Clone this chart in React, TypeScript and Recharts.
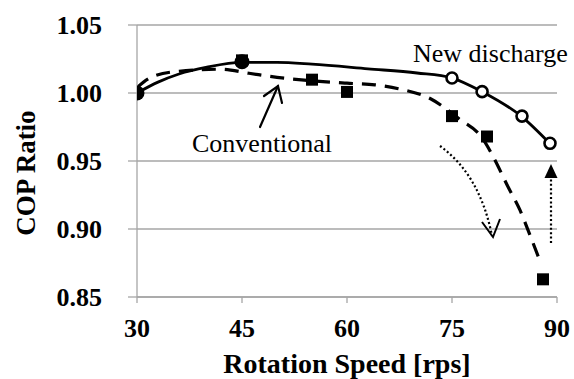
import { ComposedChart, Line, Scatter, XAxis, YAxis, CartesianGrid } from 'recharts';

const FONT = "'Liberation Serif', 'Times New Roman', serif";
const GRID = '#a6a6a6';

const xTicks = [30, 45, 60, 75, 90];
const yTicks = [0.85, 0.9, 0.95, 1.0, 1.05];

// solid trend curve (new discharge)
const newDischargeCurve = [
  { x: 30, y: 1.0 },
  { x: 33, y: 1.008 },
  { x: 36, y: 1.014 },
  { x: 40, y: 1.019 },
  { x: 45, y: 1.0225 },
  { x: 50, y: 1.0225 },
  { x: 55, y: 1.0212 },
  { x: 63, y: 1.0178 },
  { x: 70, y: 1.0147 },
  { x: 75, y: 1.011 },
  { x: 79.3, y: 1.001 },
  { x: 85, y: 0.9825 },
  { x: 89, y: 0.9628 },
];

// dashed trend curve (conventional)
const conventionalCurve = [
  { x: 30, y: 1.004 },
  { x: 32, y: 1.0115 },
  { x: 36, y: 1.016 },
  { x: 42, y: 1.0175 },
  { x: 46, y: 1.0145 },
  { x: 50, y: 1.0115 },
  { x: 55, y: 1.009 },
  { x: 60, y: 1.0072 },
  { x: 64, y: 1.006 },
  { x: 67.5, y: 1.003 },
  { x: 72, y: 0.9956 },
  { x: 76, y: 0.981 },
  { x: 79.3, y: 0.967 },
  { x: 81, y: 0.952 },
  { x: 83, y: 0.931 },
  { x: 84.7, y: 0.914 },
  { x: 86.1, y: 0.896 },
  { x: 87.6, y: 0.876 },
];

// measured points
const newDischargeFilled = [
  { x: 30, y: 1.0 },
  { x: 45, y: 1.023 },
];
const newDischargeOpen = [
  { x: 75, y: 1.011 },
  { x: 79.3, y: 1.001 },
  { x: 85, y: 0.983 },
  { x: 89, y: 0.963 },
];
const conventionalPoints = [
  { x: 45, y: 1.024 },
  { x: 55, y: 1.0098 },
  { x: 60, y: 1.0008 },
  { x: 75, y: 0.983 },
  { x: 80, y: 0.968 },
  { x: 88, y: 0.863 },
];

const textStyle = { fontFamily: FONT };

const XTick = ({ x, y, payload }: any) => (
  <text x={x} y={y + 32} textAnchor="middle" fontSize={26} fontWeight="bold" style={textStyle} fill="#000">
    {payload.value}
  </text>
);

const YTick = ({ x, y, payload }: any) => (
  <text x={x - 24} y={y + 9} textAnchor="end" fontSize={26} fontWeight="bold" style={textStyle} fill="#000">
    {Number(payload.value).toFixed(2)}
  </text>
);

const Square = ({ cx, cy }: any) => <rect x={cx - 6} y={cy - 6} width={12} height={12} fill="#000" />;
const FilledCircle = ({ cx, cy }: any) => <circle cx={cx} cy={cy} r={7.5} fill="#000" />;
const OpenCircle = ({ cx, cy }: any) => (
  <circle cx={cx} cy={cy} r={5.5} fill="#fff" stroke="#000" strokeWidth={2.6} />
);

export default function App() {
  return (
    <div style={{ position: 'absolute', left: 0, top: 0, width: 574, height: 379, background: '#fff' }}>
      <ComposedChart width={574} height={379} margin={{ top: 25, right: 17, bottom: 0, left: 0 }}>
        <CartesianGrid vertical={false} stroke={GRID} strokeWidth={1.3} />
        <XAxis
          type="number"
          dataKey="x"
          domain={[30, 90]}
          ticks={xTicks}
          allowDataOverflow
          height={82}
          tickSize={6}
          stroke={GRID}
          tickLine={{ stroke: GRID, strokeWidth: 1.3 }}
          axisLine={{ stroke: GRID, strokeWidth: 1.3 }}
          tick={<XTick />}
        />
        <YAxis
          type="number"
          dataKey="y"
          domain={[0.85, 1.05]}
          ticks={yTicks}
          allowDataOverflow
          width={137}
          tickSize={9}
          tickLine={{ stroke: GRID, strokeWidth: 1.3 }}
          axisLine={{ stroke: GRID, strokeWidth: 1.3 }}
          tick={<YTick />}
        />
        <Line
          data={conventionalCurve}
          dataKey="y"
          type="monotone"
          stroke="#000"
          strokeWidth={3.2}
          strokeDasharray="14 9"
          dot={false}
          isAnimationActive={false}
        />
        <Line
          data={newDischargeCurve}
          dataKey="y"
          type="monotone"
          stroke="#000"
          strokeWidth={2.8}
          dot={false}
          isAnimationActive={false}
        />
        <Scatter data={conventionalPoints} dataKey="y" shape={<Square />} isAnimationActive={false} />
        <Scatter data={newDischargeFilled} dataKey="y" shape={<FilledCircle />} isAnimationActive={false} />
        <Scatter data={newDischargeOpen} dataKey="y" shape={<OpenCircle />} isAnimationActive={false} />
      </ComposedChart>

      <svg width={574} height={379} style={{ position: 'absolute', left: 0, top: 0, pointerEvents: 'none' }}>
        <text x={347} y={373} textAnchor="middle" fontSize={28} fontWeight="bold" style={textStyle}>
          Rotation Speed [rps]
        </text>
        <text
          x={35}
          y={173}
          textAnchor="middle"
          fontSize={27}
          fontWeight="bold"
          style={textStyle}
          transform="rotate(-90, 35, 173)"
        >
          COP Ratio
        </text>

        <text x={413} y={62} fontSize={26} style={textStyle}>New discharge</text>
        <text x={192} y={152} fontSize={26} style={textStyle}>Conventional</text>

        {/* arrow pointing at the conventional curve */}
        <g stroke="#000" strokeWidth={2.2} fill="none" strokeLinecap="round">
          <line x1={260} y1={127} x2={278} y2={86} />
          <polyline points="264,96 278,86 282,103" />
        </g>

        {/* dotted curved arrow */}
        <path d="M440,146 Q480,175 492,236" stroke="#000" strokeWidth={2.2} strokeDasharray="2 2.4" fill="none" />
        <polyline points="482,222 493,237 500,219" stroke="#000" strokeWidth={2} fill="none" />

        {/* dotted vertical arrow */}
        <line x1={551} y1={243} x2={551} y2={178} stroke="#000" strokeWidth={2.2} strokeDasharray="2 2.4" />
        <polygon points="551,164 544.5,178 557.5,178" fill="#000" />
      </svg>
    </div>
  );
}
